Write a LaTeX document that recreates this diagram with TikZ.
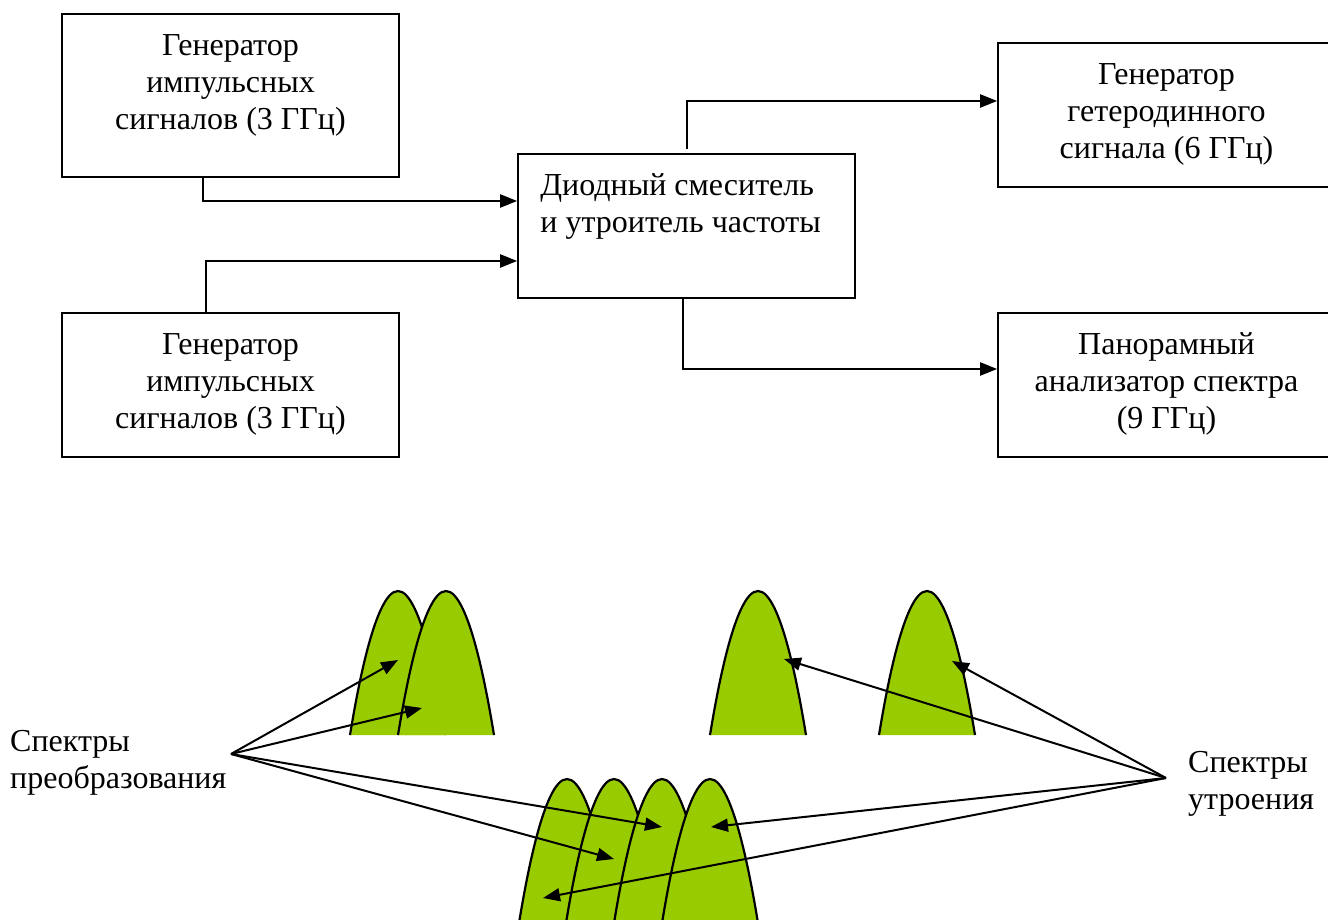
\documentclass[tikz,border=0pt]{standalone}
\usepackage{fontspec}
\setmainfont{Liberation Serif}
\usetikzlibrary{arrows.meta,positioning}

\definecolor{bellgreen}{HTML}{99CC00}

\tikzset{
	box/.style={draw, line width=1.6pt, minimum width=337pt, minimum height=144pt, inner sep=0pt},
	boxtext/.style={anchor=north, align=center, inner sep=0pt},
	link/.style={line width=2pt, -{Triangle[length=17pt,width=13pt]}},
	bellline/.style={line width=2.2pt}
}

% one spectral line: centre x, base y (pixels)
\newcommand{\bell}[2]{%
	\fill[bellgreen] (#1-48,#2) parabola bend (#1,#2-144) (#1+48,#2) -- cycle;
	\draw[bellline] (#1-48,#2) parabola bend (#1,#2-144) (#1+48,#2);
}

\begin{document}
\begin{tikzpicture}[x=1pt, y=-1pt, font=\fontsize{32}{37}\selectfont]
	\useasboundingbox (0,0) rectangle (1328,920);
	
	%boxes
	\node (gen1) [box, minimum height=163pt] at (230.5,95.5) {};
	\node (gen2) [box, below of=gen1, node distance=289.5pt]  {};
	\node (mixer)[box] at (686.5,226)                        {};
	\node (ana)  [box, right of=gen2, node distance=936pt]   {};
	\node (het)  [box, above of=ana, node distance=270pt]    {};
	
	%texts
	\node (gen1-txt) [boxtext, below=21pt of gen1.north] {Генератор\\импульсных\\сигналов (3 ГГц)};
	\node (gen2-txt) [boxtext, below=21pt of gen2.north] {Генератор\\импульсных\\сигналов (3 ГГц)};
	\node (mixer-txt)[boxtext, anchor=north west, align=left, below right=20pt and 23pt of mixer.north west]
		{Диодный смеситель\\и утроитель частоты};
	\node (het-txt)  [boxtext, below=21pt of het.north]  {Генератор\\гетеродинного\\сигнала (6 ГГц)};
	\node (ana-txt)  [boxtext, below=20pt of ana.north]  {Панорамный\\анализатор спектра\\(9 ГГц)};
	
	%links
	\draw[link] ([xshift=-27.5pt]gen1.south) |- ([yshift=25pt]mixer.west);
	\draw[link] ([xshift=-24.5pt]gen2.north) |- ([yshift=-35pt]mixer.west);
	\draw[link] ([yshift=4pt]mixer.north)    |- ([yshift=14pt]het.west);
	\draw[link] ([xshift=-3.5pt]mixer.south) |- ([yshift=16pt]ana.west);
	
	%spectra
	\bell{398}{735} \bell{446}{735}
	\bell{758}{735} \bell{927}{735}
	\bell{567}{923} \bell{614}{923} \bell{662}{923} \bell{710}{923}
	
	%labels
	\node (preob) [inner sep=0pt, anchor=north west, align=left] at (10,730)   {Спектры\\преобразования};
	\node (utr)   [inner sep=0pt, anchor=north west, align=left] at (1188,751) {Спектры\\утроения};
	\coordinate (preob-tip) at (231,754);
	\coordinate (utr-tip)   at (1166,778);
	
	\coordinate (pA) at (398,660);
	\coordinate (pB) at (422,708);
	\coordinate (pC) at (662,827);
	\coordinate (pD) at (614,859);
	\coordinate (uA) at (784,659);
	\coordinate (uB) at (952,661);
	\coordinate (uC) at (711,827);
	\coordinate (uD) at (543,898);
	
	\foreach \t in {pA,pB,pC,pD}
		\draw[link] (preob-tip) -- (\t);
	\foreach \t in {uA,uB,uC,uD}
		\draw[link] (utr-tip) -- (\t);
\end{tikzpicture}
\end{document}
